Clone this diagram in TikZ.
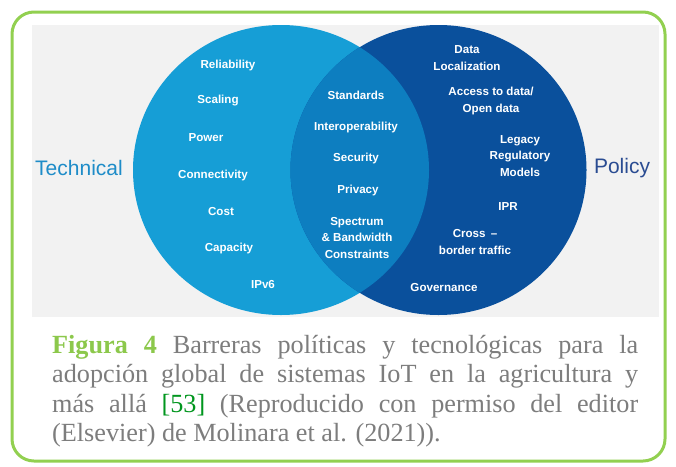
\documentclass[tikz,border=0pt]{standalone}
\usepackage{fontspec}
\setmainfont{Liberation Serif}
\setsansfont{Liberation Sans}
\definecolor{frame}{RGB}{146,208,80}
\definecolor{panel}{RGB}{242,242,242}
\definecolor{leftc}{RGB}{22,158,214}
\definecolor{rightc}{RGB}{10,80,156}
\definecolor{midc}{RGB}{13,126,192}
\definecolor{techc}{RGB}{30,140,200}
\definecolor{polc}{RGB}{42,76,146}
\definecolor{capgray}{RGB}{125,125,125}
\definecolor{figgreen}{RGB}{140,200,75}
\definecolor{refgreen}{RGB}{0,150,30}
\tikzset{
  item/.style={text=white, font=\sffamily\bfseries\fontsize{11.6}{16.5}\selectfont, align=center, inner sep=0pt},
  side/.style={font=\sffamily\fontsize{21}{24}\selectfont, inner sep=0pt},
  capline/.style={anchor=base west, inner sep=0pt, text=capgray, font=\fontsize{26.2}{29.5}\selectfont}
}
\begin{document}
\begin{tikzpicture}[x=1pt,y=-1pt]
\useasboundingbox (0,0) rectangle (676,466);
\fill[white] (0,0) rectangle (676,466);
\fill[panel] (32,25) rectangle (659,317);
\draw[frame, line width=3pt, rounded corners=22pt] (12,12) rectangle (665,461);
% circles
\coordinate (L) at (281,170);
\coordinate (R) at (438.5,170);
\fill[leftc] (L) ellipse [x radius=148pt, y radius=145pt];
\fill[rightc] (R) ellipse [x radius=148pt, y radius=145pt];
\begin{scope}
  \clip (L) ellipse [x radius=148pt, y radius=145pt];
  \fill[midc] (R) ellipse [x radius=148pt, y radius=145pt];
\end{scope}
% side labels
\node[side, text=techc] (tech) at (79,168) {Technical};
\node[side, text=polc] (pol) at (622,168) {Policy};
% left items
\node[item] (rel) at (228,65) {Reliability};
\node[item] (sca) at (218,101) {Scaling};
\node[item] (pow) at (206,138) {Power};
\node[item] (con) at (213,175) {Connectivity};
\node[item] (cos) at (221,212) {Cost};
\node[item] (cap) at (229,248) {Capacity};
\node[item] (ipv) at (263,285) {IPv6};
% middle items
\node[item] (std) at (356,95) {Standards};
\node[item] (int) at (356,127) {Interoperability};
\node[item] (sec) at (356,158) {Security};
\node[item] (pri) at (358,190) {Privacy};
\node[item] (spe) at (357,238) {Spectrum\\\& Bandwidth\\Constraints};
% right items
\node[item] (dat) at (467,58) {Data\\Localization};
\node[item] (acc) at (491,101) {Access to data/\\Open data};
\node[item] (leg) at (520,156) {Legacy\\Regulatory\\Models};
\node[item] (ipr) at (508,207) {IPR};
\node[item] (cro) at (475,242) {Cross \,--\\border traffic};
\node[item] (gov) at (444,287) {Governance};
% caption
\node[capline] (c1) at (52,353) {\makebox[586pt][s]{\textcolor{figgreen}{\textbf{Figura 4}} Barreras políticas y tecnológicas para la}};
\node[capline] (c2) at (52,382.5) {\makebox[586pt][s]{adopción global de sistemas IoT en la agricultura y}};
\node[capline] (c3) at (52,412) {\makebox[586pt][s]{más allá \textcolor{refgreen}{[53]} (Reproducido con permiso del editor}};
\node[capline] (c4) at (52,441.5) {(Elsevier) de Molinara et al. (2021)).};
\end{tikzpicture}
\end{document}
